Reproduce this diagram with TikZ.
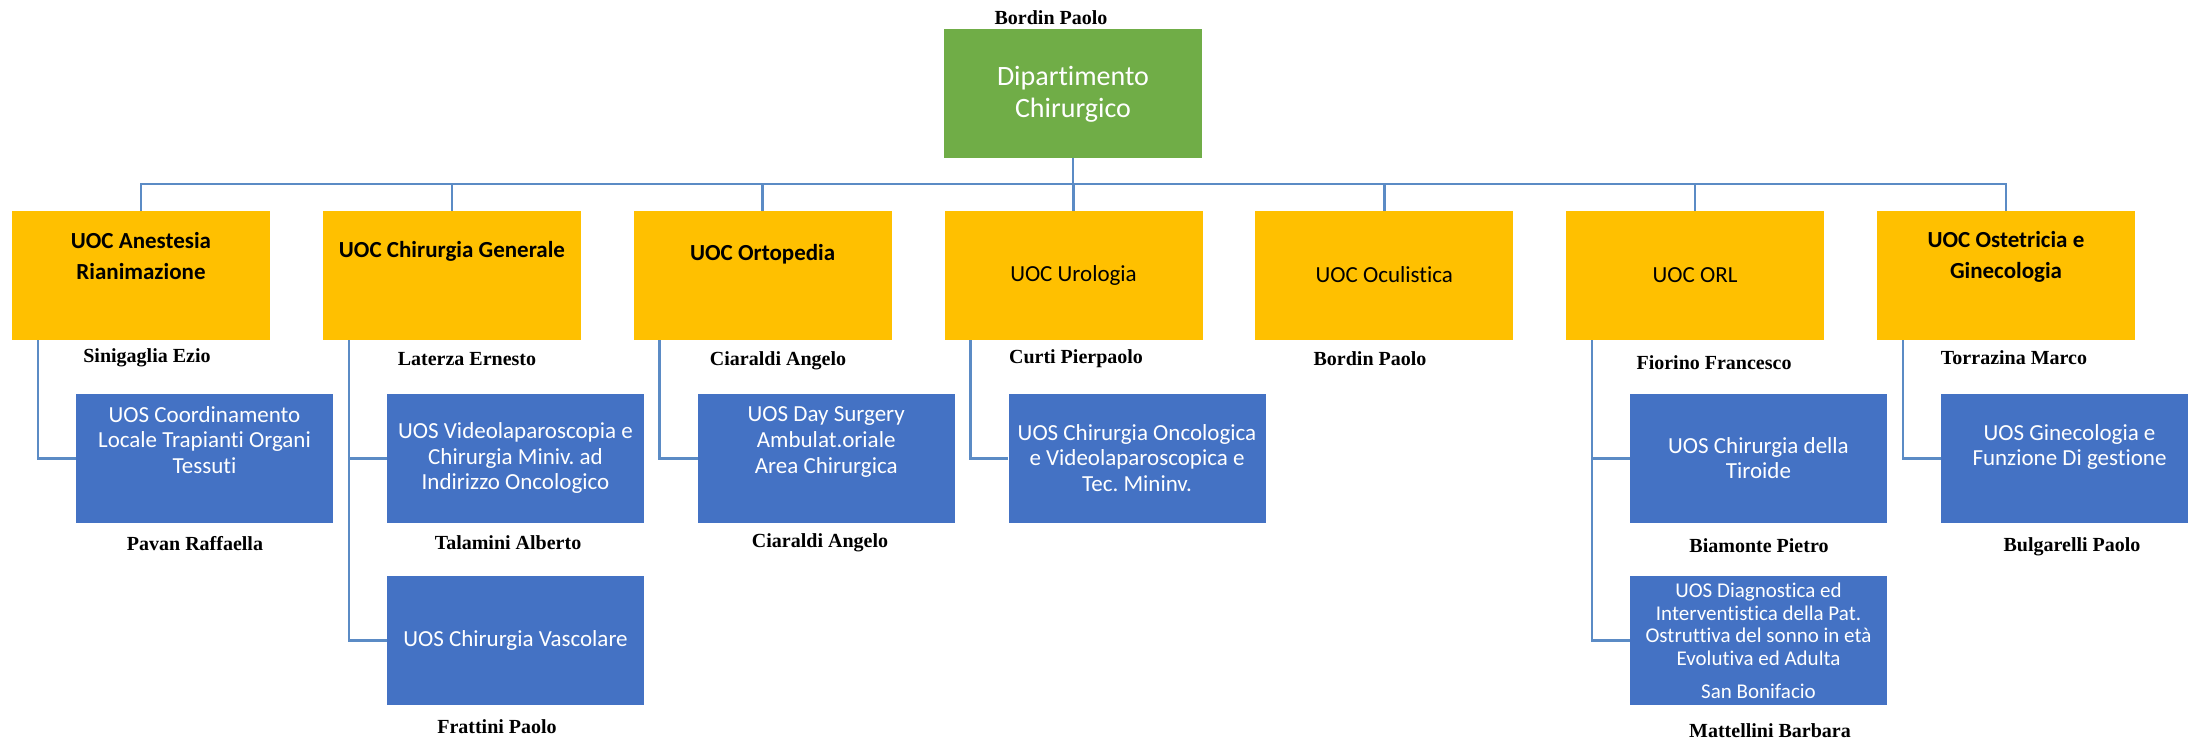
\documentclass[tikz,border=0pt]{standalone}
\usepackage{fontspec}
\setmainfont{Carlito}[Ligatures={NoCommon,NoContextual}]
\newfontfamily\namefont{Liberation Serif}
\definecolor{ygold}{HTML}{FFC000}
\definecolor{dgreen}{HTML}{70AD47}
\definecolor{sblue}{HTML}{4472C4}
\definecolor{lnblue}{HTML}{5B8BC5}
\frenchspacing
\begin{document}
\begin{tikzpicture}[x=1pt,y=-1pt,
 box/.style={rectangle, inner sep=0, minimum width=258pt, minimum height=129pt, draw=none},
 deptbox/.style={box, fill=dgreen},
 uocbox/.style={box, fill=ygold},
 uosbox/.style={box, fill=sblue, minimum width=257pt},
 uoct/.style={align=center, inner sep=0, font=\fontsize{23}{31}\selectfont},
 uoctb/.style={align=center, inner sep=0, font=\fontsize{23}{31}\selectfont\bfseries},
 uost/.style={align=center, inner sep=0, text=white, font=\fontsize{23}{25.7}\selectfont},
 namet/.style={inner sep=0, font=\namefont\bfseries\fontsize{20}{24}\selectfont},
 conn/.style={draw=lnblue, line width=2.5pt, line join=miter},
]
\clip (0,0) rectangle (2188,740);
% boxes
\node[deptbox] (dept) at (1073,93.5) {};
\node[uocbox] (u1) at (141,275.5) {};
\node[uocbox] (u2) at (452,275.5) {};
\node[uocbox] (u3) at (762.7,275.5) {};
\node[uocbox] (u4) at (1073.5,275.5) {};
\node[uocbox] (u5) at (1384.3,275.5) {};
\node[uocbox] (u6) at (1695,275.5) {};
\node[uocbox] (u7) at (2006,275.5) {};
\node[uosbox] (s1) at (204.5,458.5) {};
\node[uosbox] (s2a) at (515.5,458.5) {};
\node[uosbox] (s2b) at (515.5,640.5) {};
\node[uosbox] (s3) at (826.2,458.5) {};
\node[uosbox] (s4) at (1137,458.5) {};
\node[uosbox] (s6a) at (1758.5,458.5) {};
\node[uosbox] (s6b) at (1758.5,640.5) {};
\node[uosbox] (s7) at (2069.5,458.5) {};
% connectors
\coordinate (bus) at (1073,184);
\draw[conn] (dept.south) -- (dept.south |- bus);
\draw[conn] (u1.north) -- (u1.north |- bus) -- (u7.north |- bus) -- (u7.north);
\foreach \u in {u2,u3,u4,u5,u6}{\draw[conn] (\u.north) -- (\u.north |- bus);}
\draw[conn] ([xshift=26pt]u1.south west) |- (s1.west);
\draw[conn] ([xshift=26pt]u2.south west) |- (s2a.west);
\draw[conn] ([xshift=26pt]u2.south west) |- (s2b.west);
\draw[conn] ([xshift=26pt]u3.south west) |- (s3.west);
\draw[conn] ([xshift=26pt]u4.south west) |- (s4.west);
\draw[conn] ([xshift=26pt]u6.south west) |- (s6a.west);
\draw[conn] ([xshift=26pt]u6.south west) |- (s6b.west);
\draw[conn] ([xshift=26pt]u7.south west) |- (s7.west);
% texts in boxes
\node[uost, font=\fontsize{28}{31.7}\selectfont] (tdept) at (1073,94) {Dipartimento\\Chirurgico};
\node[uoctb] (tu1) at (141,256.5) {UOC Anestesia\\Rianimazione};
\node[uoctb] (tu2) at (452,251) {UOC Chirurgia Generale};
\node[uoctb] (tu3) at (762.7,254) {UOC Ortopedia};
\node[uoct] (tu4) at (1073.5,275) {UOC Urologia};
\node[uoct] (tu5) at (1384.3,275) {UOC Oculistica};
\node[uoct] (tu6) at (1695,275) {UOC ORL};
\node[uoctb] (tu7) at (2006,256.5) {UOC Ostetricia e\\Ginecologia};
\node[uost] (ts1) at (204.5,440) {UOS Coordinamento\\Locale Trapianti Organi\\Tessuti};
\node[uost] (ts2a) at (515.5,458) {UOS Videolaparoscopia e\\Chirurgia Miniv. ad\\Indirizzo Oncologico};
\node[uost] (ts2b) at (515.5,640) {UOS Chirurgia Vascolare};
\node[uost] (ts3) at (826.2,442) {UOS Day Surgery\\Ambulat.oriale\\Area Chirurgica};
\node[uost] (ts4) at (1137,458) {UOS Chirurgia Oncologica\\e Videolaparoscopica e\\Tec. Mininv.};
\node[uost] (ts6a) at (1758.5,458) {UOS Chirurgia della\\Tiroide};
\node[uost, font=\fontsize{21}{22.7}\selectfont] (ts6b) at (1758.5,640.5) {UOS Diagnostica ed\\Interventistica della Pat.\\Ostruttiva del sonno in età\\Evolutiva ed Adulta\\[10pt]San Bonifacio};
\node[uost] (ts7) at (2069.5,447) {UOS Ginecologia e\\Funzione Di gestione};
% names
\node[namet] (n0) at (1051,18) {Bordin Paolo};
\node[namet] (n1) at (147,358) {Sinigaglia Ezio};
\node[namet] (n2) at (467,359) {Laterza Ernesto};
\node[namet] (n3) at (778,361) {Ciaraldi Angelo};
\node[namet] (n4) at (1076,359) {Curti Pierpaolo};
\node[namet] (n5) at (1370,359) {Bordin Paolo};
\node[namet] (n6) at (1714,363) {Fiorino Francesco};
\node[namet] (n7) at (2014,358) {Torrazina Marco};
\node[namet] (m1) at (195,544) {Pavan Raffaella};
\node[namet] (m2a) at (508,543) {Talamini Alberto};
\node[namet] (m2b) at (497,727) {Frattini Paolo};
\node[namet] (m3) at (820,543) {Ciaraldi Angelo};
\node[namet] (m6a) at (1759,546) {Biamonte Pietro};
\node[namet] (m6b) at (1770,731) {Mattellini Barbara};
\node[namet] (m7) at (2072,547) {Bulgarelli Paolo};
\end{tikzpicture}
\end{document}
